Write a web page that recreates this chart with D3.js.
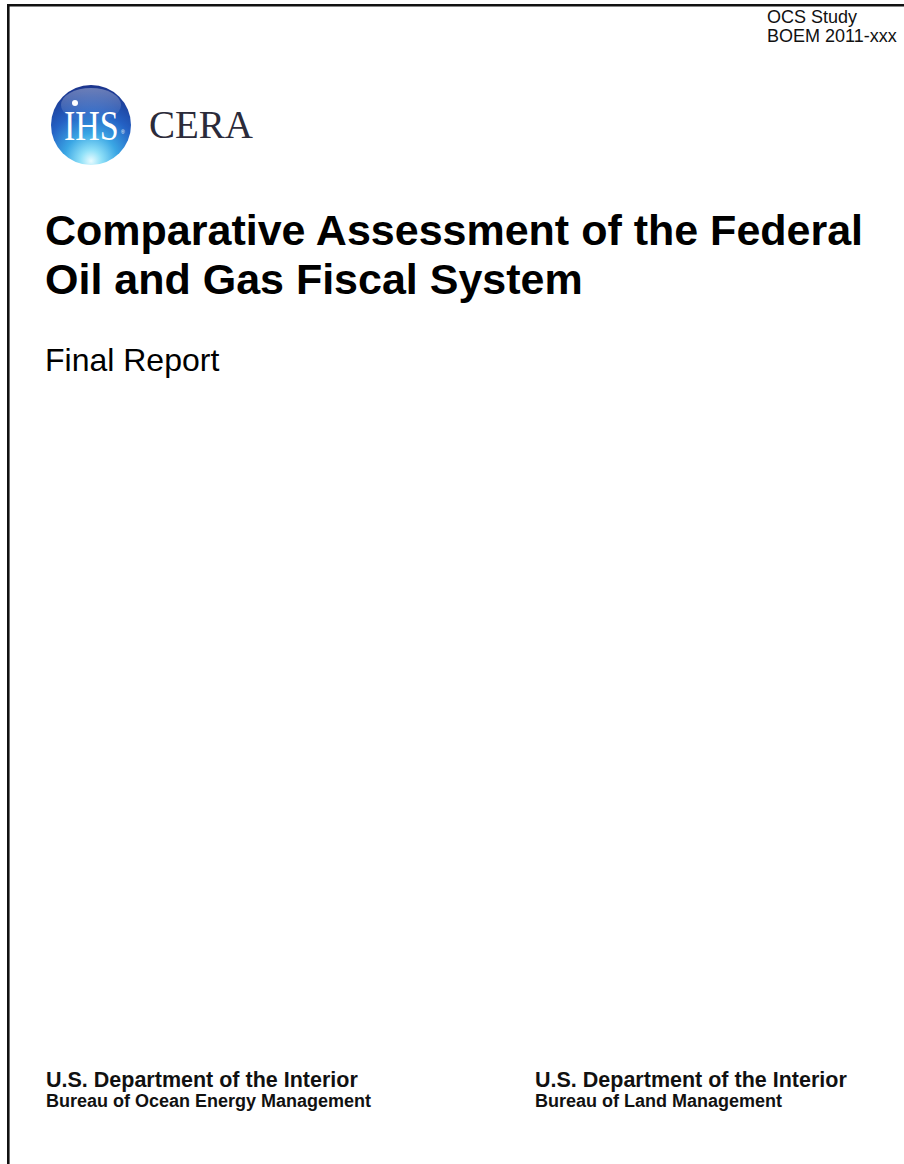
<!DOCTYPE html>
<html>
<head>
<meta charset="utf-8">
<script src="https://cdn.jsdelivr.net/npm/d3@7"></script>
<style>
  html, body { margin: 0; padding: 0; background: #fff; }
  svg { display: block; }
</style>
</head>
<body>
<div id="vis"></div>
<script>
// Page size
const width = 904;
const height = 1164;

// Text content of the cover
const studyLines = ['OCS Study', 'BOEM 2011-xxx'];
const logoWords = ['IHS', 'CERA'];
const titleLines = ['Comparative Assessment of the Federal', 'Oil and Gas Fiscal System'];
const subtitle = 'Final Report';
const agencies = ['Bureau of Ocean Energy Management', 'Bureau of Land Management'];
const department = 'U.S. Department of the Interior';

// Page frame
const svg = d3.select('#vis')
    .append('svg')
    .attr('width', width)
    .attr('height', height);

const defs = svg.append('defs');

// Sphere gradient for the logo
let grad = defs.append('radialGradient')
    .attr('id', 'sphere')
    .attr('cx', '50%').attr('cy', '92%')
    .attr('r', '95%')
    .attr('fx', '50%').attr('fy', '95%');
grad.append('stop').attr('offset', '0%').attr('stop-color', '#e8fbff');
grad.append('stop').attr('offset', '14%').attr('stop-color', '#8fe0f8');
grad.append('stop').attr('offset', '35%').attr('stop-color', '#3aa6e4');
grad.append('stop').attr('offset', '62%').attr('stop-color', '#2461c4');
grad.append('stop').attr('offset', '100%').attr('stop-color', '#1a2f86');

let gloss = defs.append('linearGradient')
    .attr('id', 'gloss')
    .attr('x1', 0).attr('y1', 0).attr('x2', 0).attr('y2', 1);
gloss.append('stop').attr('offset', '0%').attr('stop-color', '#fff').attr('stop-opacity', 0.35);
gloss.append('stop').attr('offset', '100%').attr('stop-color', '#fff').attr('stop-opacity', 0);

// Border: top and left edges only
svg.append('line')
    .attr('x1', 7).attr('y1', 5.3)
    .attr('x2', width).attr('y2', 5.3)
    .attr('stroke', '#111')
    .attr('stroke-width', 2.6);

svg.append('line')
    .attr('x1', 8.3).attr('y1', 4)
    .attr('x2', 8.3).attr('y2', height)
    .attr('stroke', '#111')
    .attr('stroke-width', 2.6);

// Study number, top right
svg.selectAll('.study')
    .data(studyLines)
    .join('text')
    .attr('class', 'study')
    .attr('x', 767)
    .attr('y', (d, i) => 23 + i * 19)
    .attr('font-family', 'Liberation Sans, Arial, sans-serif')
    .attr('font-size', '18px')
    .attr('fill', '#111')
    .text(d => d);

// Logo
let logo = svg.append('g')
    .attr('transform', 'translate(91,125)');

logo.append('circle')
    .attr('r', 40)
    .attr('fill', 'url(#sphere)');

logo.append('ellipse')
    .attr('cx', 0).attr('cy', -20)
    .attr('rx', 30).attr('ry', 17)
    .attr('fill', 'url(#gloss)');

// IHS letters, stretched a little taller than wide
logo.append('text')
    .attr('transform', 'translate(-27,15) scale(1,1.22)')
    .attr('font-family', 'Liberation Serif, Times New Roman, serif')
    .attr('font-size', '34px')
    .attr('fill', '#fff')
    .text(logoWords[0]);

logo.append('text')
    .attr('x', 30)
    .attr('y', 9)
    .attr('font-family', 'Liberation Sans, Arial, sans-serif')
    .attr('font-size', '5px')
    .attr('fill', '#fff')
    .text('®');

logo.append('circle')
    .attr('cx', -16).attr('cy', -22)
    .attr('r', 3)
    .attr('fill', '#fff');

svg.append('text')
    .attr('x', 149)
    .attr('y', 138)
    .attr('font-family', 'Liberation Serif, Times New Roman, serif')
    .attr('font-size', '39px')
    .attr('fill', '#2b2b3a')
    .text(logoWords[1]);

// Title
svg.selectAll('.title')
    .data(titleLines)
    .join('text')
    .attr('class', 'title')
    .attr('x', 45)
    .attr('y', (d, i) => 245 + i * 49)
    .attr('font-family', 'Liberation Sans, Arial, sans-serif')
    .attr('font-weight', 'bold')
    .attr('font-size', '43px')
    .attr('fill', '#000')
    .text(d => d);

svg.append('text')
    .attr('x', 45)
    .attr('y', 371)
    .attr('font-family', 'Liberation Sans, Arial, sans-serif')
    .attr('font-size', '32px')
    .attr('fill', '#000')
    .text(subtitle);

// Agencies at the bottom
let xCol = d3.scalePoint()
    .domain(agencies)
    .range([46, 535]);

let foot = svg.selectAll('.foot')
    .data(agencies)
    .join('g')
    .attr('class', 'foot')
    .attr('transform', d => `translate(${xCol(d)},0)`);

foot.append('text')
    .attr('y', 1087)
    .attr('font-family', 'Liberation Sans, Arial, sans-serif')
    .attr('font-weight', 'bold')
    .attr('font-size', '21.5px')
    .attr('fill', '#111')
    .text(department);

foot.append('text')
    .attr('y', 1107)
    .attr('font-family', 'Liberation Sans, Arial, sans-serif')
    .attr('font-weight', 'bold')
    .attr('font-size', '18px')
    .attr('fill', '#111')
    .text(d => d);
</script>
</body>
</html>
